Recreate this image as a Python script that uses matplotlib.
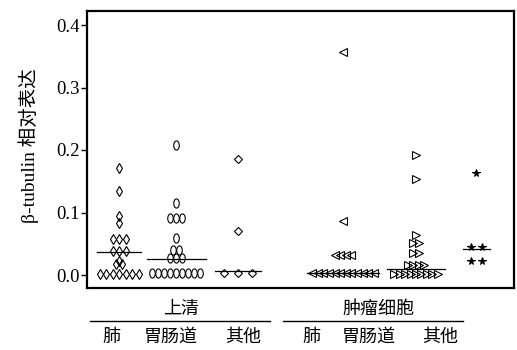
import matplotlib
matplotlib.use("Agg")
import matplotlib.pyplot as plt
import numpy as np
from matplotlib.lines import Line2D
from matplotlib.path import Path
from matplotlib.transforms import Affine2D

# relative beta-tubulin expression per group
sup_lung = [0.172, 0.135, 0.095, 0.083, 0.058, 0.058, 0.058, 0.039, 0.039, 0.039,
            0.022, 0.018, 0.018, 0.002, 0.002, 0.002, 0.002, 0.002, 0.002, 0.002]
sup_gi = [0.208, 0.115, 0.092, 0.092, 0.092, 0.060, 0.040, 0.040, 0.028, 0.028, 0.028,
          0.004, 0.004, 0.004, 0.004, 0.004, 0.004, 0.004, 0.004, 0.004]
sup_other = [0.185, 0.071, 0.004, 0.004, 0.004]
tum_lung = [0.357, 0.086, 0.032, 0.032, 0.032, 0.032,
            0.003, 0.003, 0.003, 0.003, 0.003, 0.003, 0.003, 0.003, 0.003, 0.003, 0.003, 0.003]
tum_gi = [0.192, 0.153, 0.064, 0.052, 0.052, 0.035, 0.035, 0.016, 0.016, 0.016, 0.016,
          0.001, 0.001, 0.001, 0.001, 0.001, 0.001, 0.001, 0.001, 0.001]
tum_other = [0.163, 0.045, 0.045, 0.023, 0.023]
medians = [0.037, 0.025, 0.007, 0.004, 0.010, 0.041]

group_names = ["上清", "肿瘤细胞"]
site_names = ["肺", "胃肠道", "其他"]
yticks = [0.0, 0.1, 0.2, 0.3, 0.4]

W, H = 517, 350
fig = plt.figure(figsize=(W / 100, H / 100), dpi=100)
ax = fig.add_axes([87 / W, 1 - 288 / H, (514 - 87) / W, (288 - 11) / H])

# 1 x-unit = 50 px
ax.set_xlim(0, 8.54)
ax.set_ylim(-0.0208, 0.4224)

ellipse = Path.unit_circle().transformed(Affine2D().scale(0.6, 1.0))

series = [
    (sup_lung, 0.64, "d", 5.0, 0.13),
    (sup_gi, 1.78, ellipse, 6.6, 0.118),
    (sup_other, 3.02, "D", 4.4, 0.28),
    (tum_lung, 5.12, "<", 5.6, 0.112),
    (tum_gi, 6.58, ">", 5.6, 0.108),
    (tum_other, 7.78, "*", 5.4, 0.22),
]
line_half = [0.44, 0.59, 0.46, 0.72, 0.58, 0.27]


def spread(values, step):
    counts = {}
    for v in values:
        counts[v] = counts.get(v, 0) + 1
    seen = {}
    offs = []
    for v in values:
        i = seen.get(v, 0)
        seen[v] = i + 1
        offs.append((i - (counts[v] - 1) / 2) * step)
    return np.array(offs)


for (vals, cx, mk, ms, step), med, half in zip(series, medians, line_half):
    xs = cx + spread(vals, step)
    filled = mk == "*"
    ax.plot(xs, vals, linestyle="none", marker=mk, markersize=ms,
            markerfacecolor="black" if filled else "none",
            markeredgecolor="black", markeredgewidth=0.8, clip_on=False)
    ax.plot([cx - half, cx + half], [med, med], color="black", lw=0.9)

for side in ["left", "right", "top", "bottom"]:
    ax.spines[side].set_linewidth(1.6)
ax.set_xticks([])
ax.set_yticks(yticks)
ax.set_yticklabels([f"{t:.1f}" for t in yticks], family="Liberation Serif", fontsize=13.5)
ax.tick_params(axis="y", length=4, width=1.0, pad=1)

fig.text(29 / W, 1 - 146 / H, "β-tubulin 相对表达", rotation=90, ha="center", va="center",
         fontsize=14, family=["Liberation Serif", "Noto Sans CJK SC"])


def fx(px):
    return px / W


def fy(py):
    return 1 - py / H


# group captions with underlines
for name, cx, x0, x1 in zip(group_names, [181, 378], [90, 283], [270, 463]):
    fig.text(fx(cx), fy(309), name, ha="center", va="center", fontsize=13,
             family="Noto Sans CJK SC")
    fig.add_artist(Line2D([fx(x0), fx(x1)], [fy(321), fy(321)], color="black", lw=1.0))

for cx, name in zip([111, 171, 243, 311, 369, 440], site_names * 2):
    fig.text(fx(cx), fy(337), name, ha="center", va="center", fontsize=13,
             family="Noto Sans CJK SC")

fig.savefig("out.png", dpi=100)
